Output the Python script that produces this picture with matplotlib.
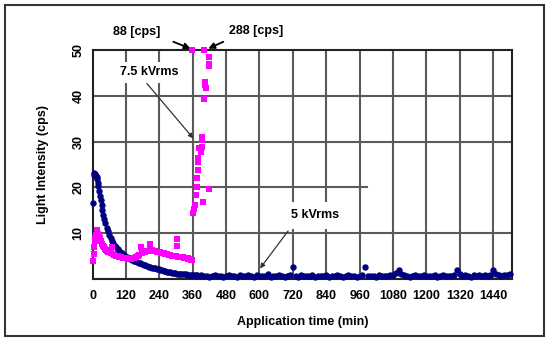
import matplotlib
matplotlib.use("Agg")
import matplotlib.pyplot as plt
from matplotlib.patches import Rectangle

plt.rcParams['font.family'] = ['Liberation Sans', 'DejaVu Sans']
plt.rcParams['font.weight'] = 'bold'

# ---------------- data ----------------
# 5 kVrms series (navy circles)
time_5kv = [2, 4, 6, 8, 10, 12, 14, 16, 18, 20, 23, 26, 29, 32, 35, 38, 41, 45, 50, 55,
            60, 65, 70, 75, 80, 85, 90, 95, 100, 106, 112, 118, 124, 130, 136, 142, 148, 154, 160, 166,
            172, 178, 184, 190, 196, 202, 208, 214, 220, 226, 232, 238, 244, 250, 256, 262, 268, 274, 280, 286,
            292, 298, 304, 310, 316, 322, 328, 334, 340, 346, 352, 358, 364, 370, 376, 382, 388, 394, 400,
            410, 420, 430, 440, 450, 460, 470, 480, 490, 500,
            510, 520, 530, 540, 550, 560, 570, 580, 590, 600,
            610, 620, 630, 640, 650, 660, 670, 680, 690, 700,
            710, 720, 730, 740, 750, 760, 770, 780, 790, 800,
            810, 820, 830, 840, 850, 860, 870, 880, 890, 900,
            910, 920, 930, 940, 950, 960, 970, 980, 990, 1000,
            1010, 1020, 1030, 1040, 1050, 1060, 1070, 1080, 1090, 1100,
            1110, 1120, 1130, 1140, 1150, 1160, 1170, 1180, 1190, 1200,
            1210, 1220, 1230, 1240, 1250, 1260, 1270, 1280, 1290, 1300,
            1310, 1320, 1330, 1340, 1350, 1360, 1370, 1380, 1390, 1400,
            1410, 1420, 1430, 1440, 1450, 1460, 1470, 1480, 1490, 1500]
light_5kv = [16.5, 22.8, 23.2, 23.0, 22.8, 22.5, 22.2, 21.8, 21.0, 20.2, 19.2, 18.2, 17.2, 16.2, 15.0, 14.0, 13.2, 12.2, 11.2, 10.4,
             9.6, 9.0, 8.4, 7.8, 7.3, 6.9, 6.5, 6.2, 5.9, 5.6, 5.3, 5.0, 4.8, 4.6, 4.4, 4.2, 4.0, 3.9, 3.7, 3.6,
             3.4, 3.3, 3.1, 3.0, 2.9, 2.7, 2.6, 2.5, 2.4, 2.3, 2.2, 2.1, 2.0, 1.9, 1.8, 1.7, 1.6, 1.5, 1.5, 1.4,
             1.3, 1.3, 1.2, 1.2, 1.1, 1.1, 1.0, 1.0, 0.9, 0.9, 0.9, 0.8, 0.8, 0.8, 0.8, 0.7, 0.8, 0.7, 0.7,
             0.7, 0.5, 0.7, 0.9, 0.6, 0.7, 0.5, 0.7, 0.8, 0.6,
             0.7, 0.5, 0.8, 0.7, 0.6, 0.9, 0.7, 0.5, 0.8, 0.7,
             0.6, 0.7, 1.0, 0.5, 0.7, 0.6, 0.8, 0.7, 0.5, 0.7,
             0.8, 2.7, 0.7, 0.5, 0.8, 0.7, 0.6, 0.7, 0.9, 0.5,
             0.7, 0.6, 0.7, 0.9, 0.5, 0.7, 0.6, 0.8, 0.7, 0.5,
             0.7, 0.8, 0.6, 0.7, 0.5, 0.7, 0.8, 2.7, 0.6, 0.7,
             0.7, 0.5, 0.8, 0.7, 0.6, 0.7, 0.8, 0.9, 1.3, 2.0,
             1.2, 0.8, 0.7, 0.5, 0.7, 0.8, 0.6, 0.7, 0.9, 0.7,
             0.6, 0.7, 0.8, 0.5, 0.6, 0.8, 0.7, 0.6, 0.7, 0.9,
             1.9, 1.1, 0.7, 0.8, 0.7, 0.5, 0.8, 0.7, 0.9, 0.7,
             0.8, 0.7, 0.9, 2.0, 1.1, 0.8, 0.7, 0.9, 0.8, 1.0]

# 7.5 kVrms series (magenta squares); 50 = clipped values (88 and 288 cps)
time_75kv = [2, 4, 6, 8, 10, 13, 16, 19, 22, 25, 28, 31, 34, 37, 40, 44, 48, 52, 56, 60,
             65, 70, 72, 78, 84, 90, 96, 102, 108, 114, 120, 126, 132, 138, 144, 150, 156, 162, 168, 174,
             176, 182, 188, 194, 200, 206, 208, 214, 220, 226, 232, 238, 244, 250, 256, 262, 268, 274, 280, 286,
             292, 300, 302, 302, 306, 312, 318, 324, 330, 336, 342, 344, 348, 354, 358,
             362, 363, 368, 372, 374, 376, 378, 380, 380, 382, 390, 391, 392, 392, 393, 398,
             401, 404, 405, 406, 418, 418, 418, 419, 358, 401]
light_75kv = [4.0, 5.5, 7.0, 8.3, 9.0, 9.6, 10.8, 9.8, 9.2, 8.9, 8.6, 8.2, 7.6, 7.2, 6.9, 6.6, 6.3, 6.1, 5.9, 5.8,
              5.6, 7.0, 5.5, 5.3, 5.1, 5.0, 4.8, 4.7, 4.6, 4.5, 4.5, 4.4, 4.3, 4.4, 4.5, 4.6, 4.8, 5.0, 5.3, 6.9,
              5.6, 5.8, 6.0, 6.1, 6.2, 7.7, 6.3, 6.3, 6.2, 6.1, 6.0, 5.9, 5.8, 5.7, 5.6, 5.5, 5.4, 5.3, 5.2, 5.1,
              5.0, 5.0, 8.7, 7.3, 4.9, 4.8, 4.7, 4.7, 4.6, 4.5, 4.4, 4.5, 4.3, 4.2, 4.1,
              14.5, 15.3, 16.2, 18.3, 20.0, 22.0, 23.8, 25.5, 26.4, 28.5, 28.2, 27.8, 28.9, 30.3, 31.0, 16.9,
              39.2, 42.4, 43.0, 41.7, 46.4, 47.0, 48.5, 19.6, 50.0, 50.0]

x_ticks = [0, 120, 240, 360, 480, 600, 720, 840, 960, 1080, 1200, 1320, 1440]
y_ticks = [10, 20, 30, 40, 50]

# ---------------- figure ----------------
fig = plt.figure(figsize=(5.5, 3.42), dpi=100)
ax = fig.add_axes([0.1684, 0.1842, 0.9309 - 0.1684, 0.8538 - 0.1842])

# outer frame
fig.patches.append(Rectangle((5 / 550, 1 - 336 / 342), 539 / 550, 331 / 342,
                             transform=fig.transFigure, fill=False, edgecolor='#333333', lw=1.5))

ax.set_xlim(0, 1508)
ax.set_ylim(0, 50)

grid_c = '#5a5a5a'
for xv in x_ticks[1:]:
    ax.axvline(xv, color=grid_c, lw=1.5, zorder=1)
for yv in [10, 30, 40]:
    ax.axhline(yv, color=grid_c, lw=1.5, zorder=1)
ax.axhline(20, xmin=0, xmax=0.654, color=grid_c, lw=1.5, zorder=1)

ax.plot(time_5kv, light_5kv, linestyle='none', marker='o', ms=4.6, color='#000080',
        markeredgewidth=0, zorder=3, clip_on=False)
ax.plot(time_75kv, light_75kv, linestyle='none', marker='s',
        ms=4.2, color='#FF00FF', markeredgewidth=0, zorder=4, clip_on=False)

for s in ax.spines.values():
    s.set_color('#222222')
    s.set_linewidth(1.5)

ax.set_xticks(x_ticks)
ax.set_xticklabels([str(v) for v in x_ticks], fontsize=9, fontweight='bold')
ax.set_yticks(y_ticks)
ax.set_yticklabels([str(v) for v in y_ticks], fontsize=9, fontweight='bold', rotation=90, va='center')
ax.tick_params(axis='both', length=0)
ax.tick_params(axis='x', pad=8)
ax.tick_params(axis='y', pad=6)

ax.set_xlabel('Application time (min)', fontsize=9, fontweight='bold', labelpad=10)
ax.set_ylabel('Light Intensity (cps)', fontsize=9, fontweight='bold', labelpad=17)

# annotations
arrow_kw = dict(arrowstyle='-|>', color='black', lw=1.3, mutation_scale=9, shrinkA=0, shrinkB=0)
ax.text(160, 53.9, '88 [cps]', ha='center', va='center', fontsize=9, fontweight='bold', clip_on=False)
ax.text(588, 54.1, '288 [cps]', ha='center', va='center', fontsize=9, fontweight='bold', clip_on=False)
ax.annotate('', xy=(352, 50.3), xytext=(290, 51.8), arrowprops=arrow_kw, annotation_clip=False)
ax.annotate('', xy=(416, 50.3), xytext=(470, 51.8), arrowprops=arrow_kw, annotation_clip=False)

ax.annotate('', xy=(362, 30.7), xytext=(195, 42.7),
            arrowprops=dict(arrowstyle='-|>', color='#333333', lw=0.9, mutation_scale=7, shrinkA=0, shrinkB=0),
            zorder=5)
ax.text(202, 45.1, '7.5 kVrms', ha='center', va='center', fontsize=9, fontweight='bold', zorder=6,
        bbox=dict(boxstyle='square,pad=0.35', facecolor='white', edgecolor='none'))

ax.annotate('', xy=(602, 2.3), xytext=(703, 10.5),
            arrowprops=dict(arrowstyle='-|>', color='#333333', lw=0.9, mutation_scale=7, shrinkA=0, shrinkB=0),
            zorder=5)
ax.text(800, 13.9, '5 kVrms', ha='center', va='center', fontsize=9, fontweight='bold', zorder=6,
        bbox=dict(boxstyle='square,pad=0.6', facecolor='white', edgecolor='none'))

fig.savefig('out.png', dpi=100)
